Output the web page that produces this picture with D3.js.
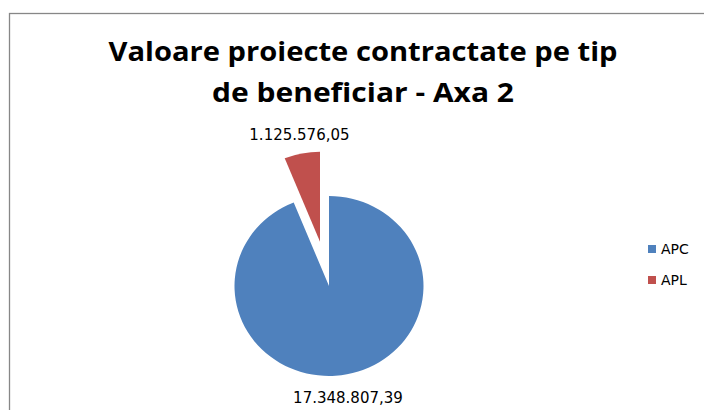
<!DOCTYPE html>
<html>
<head>
<meta charset="utf-8">
<script src="https://cdn.jsdelivr.net/npm/d3@7"></script>
<style>
  body { margin: 0; background: #fff; }
  svg { display: block; }
</style>
</head>
<body>
<svg id="chart" width="704" height="410"></svg>
<script>
// data
const categories = ['APC', 'APL']
const values = [17348807.39, 1125576.05]
const valueLabels = ['17.348.807,39', '1.125.576,05']
const colors = ['#4F81BD', '#C0504D']
const titleLines = ['Valoare proiecte contractate pe tip', 'de beneficiar - Axa 2']

function drawChart() {
  const svg = d3.select('#chart')

  // chart area frame (runs off the right and bottom edge)
  svg.append('rect')
    .attr('x', 9.5)
    .attr('y', 13.5)
    .attr('width', 740)
    .attr('height', 440)
    .attr('fill', '#fff')
    .attr('stroke', '#878787')
    .attr('stroke-width', 1.3)

  // title
  svg.append('g')
    .selectAll('text')
    .data(titleLines)
    .enter()
    .append('text')
    .text(d => d)
    .attr('x', 363)
    .attr('y', (d, i) => 61 + i * 41)
    .attr('text-anchor', 'middle')
    .attr('font-family', '"Open Sans", "Noto Sans", sans-serif')
    .attr('font-weight', 'bold')
    .attr('font-size', 27)
    .attr('fill', '#000')
    .each(function () {
      const w = this.getComputedTextLength()
      const target = this.textContent.length > 25 ? 509 : 302
      if (Math.abs(w - target) > 4) {
        d3.select(this).attr('textLength', target).attr('lengthAdjust', 'spacingAndGlyphs')
      }
    })

  const cx = 329
  const cy = 286
  const radius = 90
  const sx = 1.05 // the pie is a little wider than tall
  const explode = 45

  const pie = d3.pie().sort(null).value(d => d)
  const arcs = pie(values)
  const arc = d3.arc().innerRadius(0).outerRadius(radius)

  const offset = (d, i) => {
    if (i === 0) return [0, 0]
    const a = (d.startAngle + d.endAngle) / 2
    return [Math.sin(a) * explode, -Math.cos(a) * explode]
  }

  const pieG = svg.append('g')
    .attr('transform', `translate(${cx}, ${cy}) scale(${sx}, 1)`)

  pieG.selectAll('path')
    .data(arcs)
    .enter()
    .append('path')
    .attr('d', arc)
    .attr('transform', (d, i) => `translate(${offset(d, i).join(',')})`)
    .attr('fill', (d, i) => colors[i])

  // value labels outside the slices
  const labelRadius = [110, 113]
  svg.append('g')
    .selectAll('text')
    .data(arcs)
    .enter()
    .append('text')
    .text((d, i) => valueLabels[i])
    .attr('x', (d, i) => {
      const a = (d.startAngle + d.endAngle) / 2
      return cx + (Math.sin(a) * labelRadius[i] + offset(d, i)[0]) * sx - (i === 0 ? 3 : -2)
    })
    .attr('y', (d, i) => {
      const a = (d.startAngle + d.endAngle) / 2
      return cy - Math.cos(a) * labelRadius[i] + offset(d, i)[1] + 9
    })
    .attr('text-anchor', 'middle')
    .attr('font-family', '"DejaVu Sans", sans-serif')
    .attr('font-size', 15)
    .attr('fill', '#000')

  // legend
  const legend = svg.append('g')
    .attr('transform', 'translate(648, 245)')

  const item = legend.selectAll('g')
    .data(categories)
    .enter()
    .append('g')
    .attr('transform', (d, i) => `translate(0, ${i * 31})`)

  item.append('rect')
    .attr('width', 8)
    .attr('height', 8)
    .attr('fill', (d, i) => colors[i])

  item.append('text')
    .text(d => d)
    .attr('x', 13)
    .attr('y', 9)
    .attr('font-family', '"DejaVu Sans", sans-serif')
    .attr('font-size', 14)
    .attr('fill', '#000')
}

drawChart()
</script>
</body>
</html>
